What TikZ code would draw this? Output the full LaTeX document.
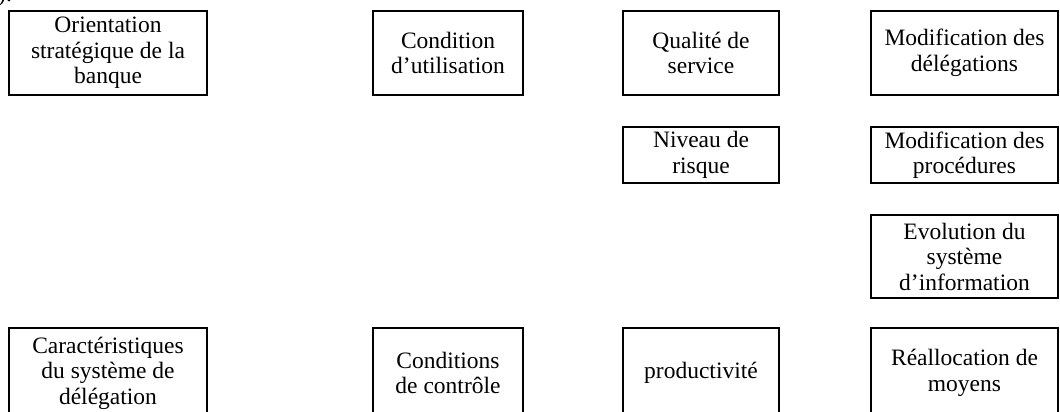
\documentclass[tikz,border=0pt]{standalone}
\usepackage{fontspec}
\setmainfont{Liberation Serif}
\usepackage{tikz}

\begin{document}
\begin{tikzpicture}[x=1pt,y=-1pt,
    bloc/.style={draw,line width=1.5pt,align=center,inner sep=0pt,
      font=\fontsize{23.5}{25.5}\selectfont},
    large/.style={bloc,minimum width=198pt,minimum height=84pt},
    moyen/.style={bloc,minimum width=150pt,minimum height=84pt},
    etroit/.style={bloc,minimum width=156pt,minimum height=84pt},
    droit/.style={bloc,minimum width=187pt,minimum height=84pt}]
  \clip (0,0) rectangle (1060,412);
  \node[anchor=base west,inner sep=0pt,font=\fontsize{23.5}{25.5}\selectfont] (fin) at (-2,2) {).};
  \node[large] (orient) at (108,53) {Orientation\\stratégique de la\\banque};
  \node[moyen] (condutil) at (448,53) {Condition\\d’utilisation};
  \node[etroit] (qualite) at (701,53) {Qualité de\\service};
  \node[droit] (moddeleg) at (964.5,53) {Modification des\\délégations};
  \node[etroit,minimum height=56pt] (risque) at (701,155) {Niveau de\\risque};
  \node[droit,minimum height=56pt] (modproc) at (964.5,155) {Modification des\\procédures};
  \node[droit,minimum height=83pt] (evol) at (964.5,256.5) {Evolution du\\système\\d’information};
  \node[large,minimum height=90pt] (caract) at (108,373) {Caractéristiques\\du système de\\délégation};
  \node[moyen,minimum height=90pt] (condctrl) at (448,373) {Conditions\\de contrôle};
  \node[etroit,minimum height=90pt] (prod) at (701,373) {productivité};
  \node[droit,minimum height=90pt] (realloc) at (964.5,373) {Réallocation de\\moyens};
\end{tikzpicture}
\end{document}
